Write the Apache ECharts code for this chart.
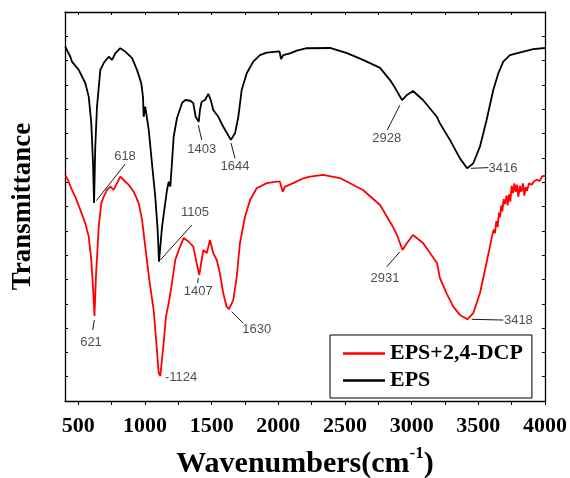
<!DOCTYPE html>
<html>
<head>
<meta charset="utf-8">
<script src="https://cdn.jsdelivr.net/npm/echarts@6/dist/echarts.min.js"></script>
<style>
html,body{margin:0;padding:0;background:#fff;}
#chart{width:570px;height:478px;}
</style>
</head>
<body>
<div id="chart"></div>
<script>
// ---- data (wavenumber cm^-1, transmittance in arbitrary units) ----
const seriesNames = ['EPS+2,4-DCP', 'EPS'];

const epsWavenumber = [402,440,452,503,552,578,597,610,618,627,640,665,690,728,753,777,815,852,903,940,972,985,990,1002,1028,1052,1077,1095,1105,1128,1165,1178,1190,1202,1215,1240,1278,1302,1340,1362,1380,1403,1412,1425,1450,1475,1493,1512,1550,1587,1644,1675,1700,1725,1763,1812,1862,1913,1988,2009,2020,2037,2088,2138,2213,2388,2515,2635,2763,2838,2875,2928,2965,3010,3085,3190,3212,3287,3362,3416,3462,3512,3562,3612,3650,3687,3737,3837,3912,4000];
const epsValue = [14.57,14.16,13.96,13.62,13.08,12.52,11.44,9.79,8.14,10.46,12.11,13.62,13.90,14.16,14.03,14.30,14.51,14.37,14.10,13.62,13.07,12.50,11.69,12.11,11.15,9.79,8.40,7.03,5.73,7.17,8.68,9.02,8.82,9.79,10.87,11.64,12.26,12.38,12.35,12.25,11.69,11.48,11.97,12.31,12.38,12.63,12.38,11.97,11.69,11.28,10.74,11.01,11.69,12.79,13.48,13.96,14.23,14.33,14.37,14.38,14.06,14.23,14.30,14.41,14.51,14.52,14.31,14.03,13.70,13.20,12.88,12.38,12.59,12.75,12.38,11.68,11.42,10.74,9.98,9.57,9.78,10.46,11.56,12.79,13.48,13.96,14.23,14.37,14.47,14.52];

const dcpWavenumber = [402,428,452,477,515,552,578,597,610,621,632,653,672,690,715,740,765,790,815,840,878,915,953,978,1002,1032,1065,1085,1103,1115,1124,1140,1157,1178,1190,1202,1227,1253,1290,1328,1362,1388,1407,1425,1437,1463,1487,1512,1538,1562,1587,1612,1630,1662,1688,1712,1750,1788,1838,1913,1988,2012,2033,2050,2112,2187,2238,2335,2462,2635,2763,2860,2890,2931,2965,3010,3085,3190,3212,3262,3312,3362,3418,3462,3512,3550,3587,3600,3615,3625,3635,3645,3655,3662,3672,3680,3690,3700,3712,3720,3730,3740,3750,3760,3770,3780,3790,3800,3812,3822,3835,3845,3855,3865,3880,3900,3920,3940,3960,3980,4000];
const dcpValue = [9.30,9.02,8.68,8.40,7.86,7.31,6.76,5.80,4.70,3.50,5.11,7.17,8.13,8.40,8.68,8.82,8.68,8.96,9.23,9.09,8.89,8.61,8.13,7.45,6.35,4.98,3.74,2.39,1.15,1.03,0.99,2.39,3.47,4.03,4.03,4.85,5.80,6.21,6.71,6.55,6.35,5.66,5.18,5.80,6.21,6.08,6.62,6.08,5.80,5.25,4.43,3.88,3.78,4.15,5.11,6.49,7.58,8.27,8.75,8.96,9.02,9.02,8.61,8.82,8.96,9.16,9.23,9.30,9.17,8.68,8.06,7.16,6.83,6.21,6.50,6.83,6.50,5.68,5.05,4.43,3.88,3.54,3.36,3.61,4.43,5.39,6.35,6.70,7.05,6.90,7.40,7.15,7.75,7.55,8.05,7.80,8.30,8.10,8.45,8.05,8.50,8.20,8.85,8.55,8.95,8.60,8.90,8.40,8.85,8.60,8.95,8.45,8.80,8.65,8.95,8.90,9.05,9.10,9.05,9.25,9.26];

// x-axis tick labels and minor ticks
const xTickLabels = [500,1000,1500,2000,2500,3000,3500,4000];
const xTicks = [500,750,1000,1250,1500,1750,2000,2250,2500,2750,3000,3250,3500,3750,4000];

// peak annotations: text, peak point, leader-line end, text anchor
const annText  = ['618','1105','1403','1644','2928','3416','621','-1124','1407','1630','2931','3418'];
const annPeak  = [[635,8.24],[1115,5.80],[1400,11.35],[1645,10.61],[2912,12.17],[3445,9.57],[620,3.33],null,[1400,5.06],[1650,3.67],[2912,6.14],[3450,3.36]];
const annEnd   = [[852,9.75],[1352,7.24],[1425,10.74],[1675,9.98],[2817,11.15],[3575,9.60],[608,2.92],null,[1395,4.85],[1737,3.20],[2813,5.52],[3687,3.33]];
const annLabel = [[850,10.04],[1375,7.77],[1425,10.36],[1675,9.65],[2813,10.80],[3576,9.58],[595,2.39],[1150,0.95],[1400,4.50],[1838,2.94],[2800,5.04],[3692,3.33]];
const annLeft  = [false,false,false,false,false,true,false,true,false,false,false,true];

// ---- build ----
const zip = (xs, ys) => xs.map((x, i) => [x, ys[i]]);
const serif = 'Liberation Serif, Times New Roman, serif';
const sans = 'Liberation Sans, Arial, sans-serif';

const markLines = [];
annPeak.forEach((p, i) => {
  if (p && annEnd[i]) markLines.push([{coord: p}, {coord: annEnd[i]}]);
});
const labelData = annText.map((t, i) => ({
  name: t,
  value: annLabel[i],
  label: annLeft[i] ? {position: 'right', distance: 0} : {position: 'inside'}
}));

const chart = echarts.init(document.getElementById('chart'), null, {renderer: 'canvas'});
chart.setOption({
  animation: false,
  backgroundColor: '#fff',
  grid: {left: 65, right: 25, top: 12, bottom: 77, containLabel: false, outerBoundsMode: 'none'},
  legend: {
    data: seriesNames,
    orient: 'vertical',
    left: 330, top: 335,
    padding: [6, 9, 5, 13],
    itemGap: 2,
    itemWidth: 42,
    itemHeight: 2.5,
    icon: 'rect',
    borderColor: '#000',
    borderWidth: 1,
    borderRadius: 0,
    textStyle: {fontFamily: serif, fontWeight: 'bold', fontSize: 22, color: '#000', lineHeight: 25}
  },
  xAxis: [{
    type: 'value', min: 400, max: 4000, position: 'bottom',
    name: '{base|Wavenumbers(cm}{sup|-1}{base|)}',
    nameLocation: 'middle', nameGap: 44,
    nameTextStyle: {fontFamily: serif, fontWeight: 'bold', fontSize: 30, color: '#000',
      rich: {
        base: {fontFamily: serif, fontWeight: 'bold', fontSize: 30, color: '#000', lineHeight: 34, verticalAlign: 'bottom'},
        sup: {fontFamily: serif, fontWeight: 'bold', fontSize: 17, color: '#000', lineHeight: 34, verticalAlign: 'top'}
      }},
    axisLine: {show: true, onZero: false, lineStyle: {color: '#000', width: 1.3}},
    axisTick: {show: true, inside: false, length: 4, customValues: xTicks, lineStyle: {color: '#000', width: 1}},
    axisLabel: {show: true, customValues: xTickLabels, formatter: v => String(v), margin: 14, fontFamily: serif, fontWeight: 'bold', fontSize: 22, color: '#000'},
    splitLine: {show: false}
  }, {
    type: 'value', min: 400, max: 4000, position: 'top',
    axisLine: {show: true, onZero: false, lineStyle: {color: '#000', width: 1.3}},
    axisTick: {show: true, inside: true, length: 3, customValues: xTicks, lineStyle: {color: '#000', width: 1}},
    axisLabel: {show: false},
    splitLine: {show: false}
  }],
  yAxis: [{
    type: 'value', min: 0, max: 16, interval: 1, position: 'left',
    name: 'Transmittance', nameLocation: 'middle', nameGap: 28,
    nameTextStyle: {fontFamily: serif, fontWeight: 'bold', fontSize: 27, color: '#000'},
    axisLine: {show: true, onZero: false, lineStyle: {color: '#000', width: 1.3}},
    axisTick: {show: true, inside: true, length: 3, lineStyle: {color: '#000', width: 1}},
    axisLabel: {show: false},
    splitLine: {show: false}
  }, {
    type: 'value', min: 0, max: 16, interval: 1, position: 'right',
    axisLine: {show: true, onZero: false, lineStyle: {color: '#000', width: 1.3}},
    axisTick: {show: true, inside: true, length: 3, lineStyle: {color: '#000', width: 1}},
    axisLabel: {show: false},
    splitLine: {show: false}
  }],
  series: [{
    name: seriesNames[0], type: 'line', data: zip(dcpWavenumber, dcpValue),
    symbol: 'none', color: '#ff0000', lineStyle: {color: '#ff0000', width: 1.8}, z: 2
  }, {
    name: seriesNames[1], type: 'line', data: zip(epsWavenumber, epsValue),
    symbol: 'none', color: '#000000', lineStyle: {color: '#000000', width: 1.8}, z: 3,
    markLine: {silent: true, symbol: 'none', animation: false,
      lineStyle: {color: '#000', width: 0.9, type: 'solid'},
      label: {show: false}, emphasis: {disabled: true},
      data: markLines}
  }, {
    name: 'annotations', type: 'scatter', data: labelData,
    symbolSize: 0, silent: true, z: 4,
    label: {show: true, formatter: p => p.name, fontFamily: sans, fontSize: 13, color: '#222'}
  }]
});
</script>
</body>
</html>
